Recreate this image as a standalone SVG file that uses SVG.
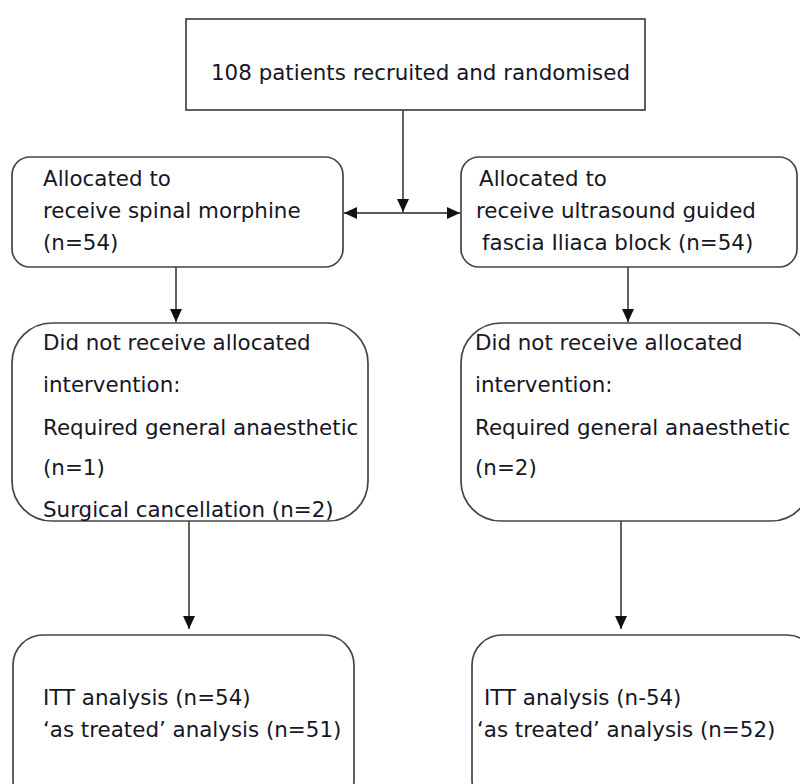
<svg xmlns="http://www.w3.org/2000/svg" width="800" height="784" viewBox="0 0 800 784">
<style>
.box{fill:#fff;stroke:#444;stroke-width:1.7}
.t{font-family:"DejaVu Sans",Verdana,sans-serif;font-size:21.4px;fill:#161624}
.c{stroke:#222;stroke-width:1.4;fill:none}
</style>
<defs>
<marker id="ah" viewBox="0 0 13 13" refX="13" refY="6.5" markerWidth="13" markerHeight="13" markerUnits="userSpaceOnUse" orient="auto">
<path d="M0,0.5 L13,6.5 L0,12.5 Z" fill="#111"/>
</marker>
</defs>
<rect width="800" height="784" fill="#fff"/>
<g id="connectors">
<line class="c" x1="403" y1="110" x2="403" y2="212" marker-end="url(#ah)"/>
<line class="c" x1="403" y1="213" x2="344" y2="213" marker-end="url(#ah)"/>
<line class="c" x1="403" y1="213" x2="460" y2="213" marker-end="url(#ah)"/>
<line class="c" x1="176" y1="267" x2="176" y2="322" marker-end="url(#ah)"/>
<line class="c" x1="628" y1="267" x2="628" y2="322" marker-end="url(#ah)"/>
<line class="c" x1="189" y1="521" x2="189" y2="629" marker-end="url(#ah)"/>
<line class="c" x1="621" y1="521" x2="621" y2="629" marker-end="url(#ah)"/>
</g>
<g id="recruited">
<rect class="box" x="186" y="19" width="459" height="91"/>
<text class="t" x="211" y="80">108 patients recruited and randomised</text>
</g>
<g id="alloc-spinal">
<rect class="box" x="12" y="157" width="331" height="110" rx="18"/>
<text class="t" x="43" y="186">Allocated to</text>
<text class="t" x="43" y="218">receive spinal morphine</text>
<text class="t" x="43" y="250">(n=54)</text>
</g>
<g id="alloc-fib">
<rect class="box" x="461" y="157" width="336" height="110" rx="18"/>
<text class="t" x="479" y="186">Allocated to</text>
<text class="t" x="476" y="218">receive ultrasound guided</text>
<text class="t" x="482" y="250">fascia Iliaca block (n=54)</text>
</g>
<g id="notrec-spinal">
<rect class="box" x="12" y="323" width="356" height="198" rx="40"/>
<text class="t" x="43" y="350">Did not receive allocated</text>
<text class="t" x="43" y="392">intervention:</text>
<text class="t" x="43" y="435">Required general anaesthetic</text>
<text class="t" x="43" y="475">(n=1)</text>
<text class="t" x="43" y="517">Surgical cancellation (n=2)</text>
</g>
<g id="notrec-fib">
<rect class="box" x="461" y="323" width="350" height="198" rx="40"/>
<text class="t" x="475" y="350">Did not receive allocated</text>
<text class="t" x="475" y="392">intervention:</text>
<text class="t" x="475" y="435">Required general anaesthetic</text>
<text class="t" x="475" y="475">(n=2)</text>
</g>
<g id="analysis-spinal">
<rect class="box" x="13" y="635" width="341" height="175" rx="30"/>
<text class="t" x="43" y="705">ITT analysis (n=54)</text>
<text class="t" x="43" y="737">‘as treated’ analysis (n=51)</text>
</g>
<g id="analysis-fib">
<rect class="box" x="472" y="635" width="345" height="175" rx="30"/>
<text class="t" x="484" y="705">ITT analysis (n-54)</text>
<text class="t" x="477" y="737">‘as treated’ analysis (n=52)</text>
</g>
</svg>
